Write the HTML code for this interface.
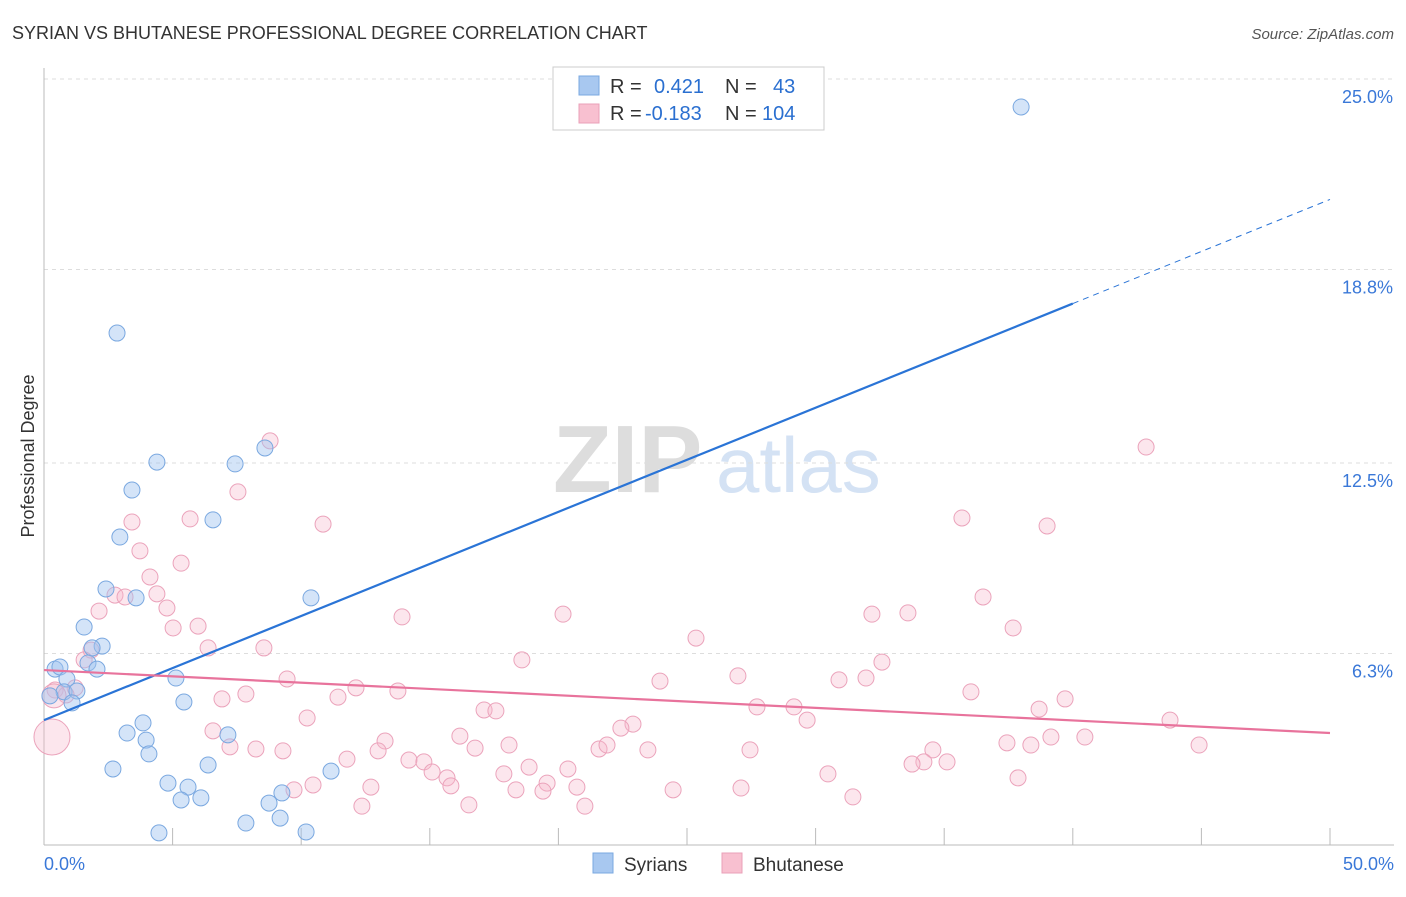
<!DOCTYPE html>
<html><head><meta charset="utf-8"><style>
body{margin:0;background:#fff;font-family:"Liberation Sans",sans-serif;}
svg text{font-family:"Liberation Sans",sans-serif;}
</style></head><body>
<svg id="chart" width="1406" height="892" xmlns="http://www.w3.org/2000/svg">
<text x="12" y="39" font-size="18" fill="#333">SYRIAN VS BHUTANESE PROFESSIONAL DEGREE CORRELATION CHART</text>
<text x="1394" y="39" font-size="15" fill="#555" font-style="italic" text-anchor="end">Source: ZipAtlas.com</text>
<g>
<text x="553" y="492" font-size="96" fill="#ddd" font-family="Liberation Serif" font-weight="bold">ZIP</text>
<text x="716" y="492" font-size="78" fill="#d4e2f4">atlas</text>
</g>
<g id="grid"></g>
<g id="axes"></g>
<g id="pts"></g>
<g id="lines"></g>
<text transform="translate(34,456) rotate(-90)" font-size="18" fill="#333" text-anchor="middle">Professional Degree</text>
<g>
<rect x="553" y="67" width="271" height="63" fill="#fff" stroke="#ccc"/>
<rect x="579" y="76" width="20" height="19" fill="#a8c8f0" stroke="#7aa8e0"/>
<rect x="579" y="104" width="20" height="19" fill="#f8c0d0" stroke="#eaa0b8"/>
<text x="610" y="93" font-size="20" fill="#333">R = </text><text x="654" y="93" font-size="20" fill="#2a6fd0">0.421</text>
<text x="725" y="93" font-size="20" fill="#333">N = </text><text x="773" y="93" font-size="20" fill="#2a6fd0">43</text>
<text x="610" y="120" font-size="20" fill="#333">R = </text><text x="645" y="120" font-size="20" fill="#2a6fd0">-0.183</text>
<text x="725" y="120" font-size="20" fill="#333">N = </text><text x="762" y="120" font-size="20" fill="#2a6fd0">104</text>
</g>
<g>
<rect x="593" y="853" width="20" height="20" fill="#a8c8f0" stroke="#7aa8e0"/>
<text x="624" y="871" font-size="19" fill="#333">Syrians</text>
<rect x="722" y="853" width="20" height="20" fill="#f8c0d0" stroke="#eaa0b8"/>
<text x="753" y="871" font-size="19" fill="#333">Bhutanese</text>
</g>
</svg>
<script>
const yTicks=[25,18.8,12.5,6.3];
const yTickLabels=["25.0%","18.8%","12.5%","6.3%"];
const xTicks=[0,5,10,15,20,25,30,35,40,45,50];
const blueX=[37.99,2.84,4.39,7.43,8.59,3.42,6.57,2.95,2.41,3.58,10.38,1.56,2.26,1.87,0.43,0.62,1.71,2.06,0.89,5.13,0.78,1.28,5.44,1.09,3.85,3.23,3.97,7.15,4.08,6.38,2.68,11.16,4.82,5.60,5.33,6.10,9.25,8.75,9.18,7.85,4.47,10.19,0.23];
const blueY=[24.09,16.73,12.53,12.47,12.99,11.62,10.65,10.09,8.40,8.11,8.11,7.16,6.54,6.48,5.79,5.86,5.99,5.79,5.47,5.50,5.05,5.08,4.72,4.69,4.04,3.71,3.48,3.65,3.03,2.67,2.54,2.47,2.08,1.95,1.53,1.60,1.76,1.43,0.94,0.78,0.46,0.49,4.92];
const pinkX=[8.79,7.54,5.68,3.42,10.85,3.73,5.33,4.12,2.14,4.39,2.76,3.15,4.78,5.99,5.02,13.92,20.18,8.55,6.38,1.83,1.56,18.58,25.35,35.69,39.00,42.85,36.51,32.19,33.59,37.68,32.58,31.96,30.91,26.98,23.95,9.45,12.13,7.85,6.92,11.43,13.76,36.04,39.70,38.69,27.72,29.16,29.67,43.78,17.11,17.57,10.23,22.90,22.43,16.17,6.57,13.26,7.23,8.24,9.29,11.78,12.99,16.76,18.08,21.58,21.89,23.48,27.45,37.44,38.37,39.15,40.47,44.91,34.56,34.21,33.75,35.11,14.19,14.77,15.09,15.67,17.88,18.86,20.37,30.48,37.87,9.72,10.46,12.71,15.82,18.35,19.56,19.40,20.72,24.46,27.10,12.36,16.52,21.03,31.45,0.43,1.21,0.86,0.31,0.39];
const pinkY=[13.22,11.56,10.68,10.58,10.51,9.64,9.24,8.79,7.68,8.24,8.20,8.14,7.78,7.19,7.13,7.49,7.58,6.48,6.48,6.41,6.09,6.09,6.80,10.71,10.45,13.02,8.14,7.58,7.62,7.13,6.02,5.50,5.44,5.57,5.40,5.47,5.18,4.98,4.82,4.88,5.08,5.05,4.82,4.49,4.56,4.56,4.13,4.13,4.46,4.43,4.20,4.00,3.87,3.61,3.78,3.45,3.26,3.19,3.13,2.86,3.13,3.22,3.32,3.19,3.32,3.16,3.16,3.39,3.32,3.58,3.58,3.32,3.16,2.77,2.70,2.77,2.83,2.77,2.44,2.25,2.38,2.60,2.54,2.38,2.25,1.86,2.02,1.95,1.99,1.86,2.08,1.82,1.95,1.86,1.92,1.33,1.37,1.33,1.63,5.11,5.18,4.95,3.58,4.92];
const pinkR=[];for(let i=0;i<pinkX.length;i++)pinkR.push(8);pinkR[pinkR.length-2]=18;pinkR[pinkR.length-1]=12;
const blueTrend=[4.13,0.339];
const pinkTrend=[5.76,-0.041];
const NS="http://www.w3.org/2000/svg";
const X=v=>44+v*25.72, Y=v=>847-v*30.72;
function mk(t,a,p){const e=document.createElementNS(NS,t);for(const k in a)e.setAttribute(k,a[k]);document.getElementById(p).appendChild(e);return e;}
yTicks.forEach((t,i)=>{
 const g=mk('line',{x1:44,x2:1394,y1:Y(t),y2:Y(t),stroke:'#ddd','stroke-dasharray':'4,4'},'grid');
 
 
 const l=mk('text',{x:1393,y:Y(t)+24,'font-size':18,fill:'#3a78d8','text-anchor':'end'},'axes');l.textContent=yTickLabels[i];
 
 
});
mk('line',{x1:44,x2:44,y1:68,y2:845,stroke:'#bbb'},'axes');
mk('line',{x1:44,x2:1394,y1:845,y2:845,stroke:'#bbb'},'axes');
xTicks.forEach(t=>{const e=mk('line',{x1:X(t),x2:X(t),y1:828,y2:845,stroke:'#bbb'},'axes');
 
 });
let a=mk('text',{x:44,y:870,'font-size':18,fill:'#3a78d8'},'axes');a.textContent='0.0%';


a=mk('text',{x:1394,y:870,'font-size':18,fill:'#3a78d8','text-anchor':'end'},'axes');a.textContent='50.0%';


pinkX.forEach((x,i)=>{const c=mk('circle',{cx:X(x),cy:Y(pinkY[i]),r:pinkR[i],fill:'rgba(246,182,204,0.35)',stroke:'#eba3bb','stroke-width':1},'pts');
 
 });
blueX.forEach((x,i)=>{const c=mk('circle',{cx:X(x),cy:Y(blueY[i]),r:8,fill:'rgba(160,196,240,0.45)',stroke:'#7aa8e0','stroke-width':1},'pts');
 
 });
let l=mk('line',{x1:X(0),y1:Y(blueTrend[0]),x2:X(40),y2:Y(blueTrend[0]+40*blueTrend[1]),stroke:'#2a74d6','stroke-width':2.2},'lines');


l=mk('line',{x1:X(40),y1:Y(blueTrend[0]+40*blueTrend[1]),x2:X(50),y2:Y(blueTrend[0]+50*blueTrend[1]),stroke:'#2a74d6','stroke-width':1,'stroke-dasharray':'6,5'},'lines');


l=mk('line',{x1:X(0),y1:Y(pinkTrend[0]),x2:X(50),y2:Y(pinkTrend[0]+50*pinkTrend[1]),stroke:'#e8739c','stroke-width':2.2},'lines');


</script>
</body></html>
